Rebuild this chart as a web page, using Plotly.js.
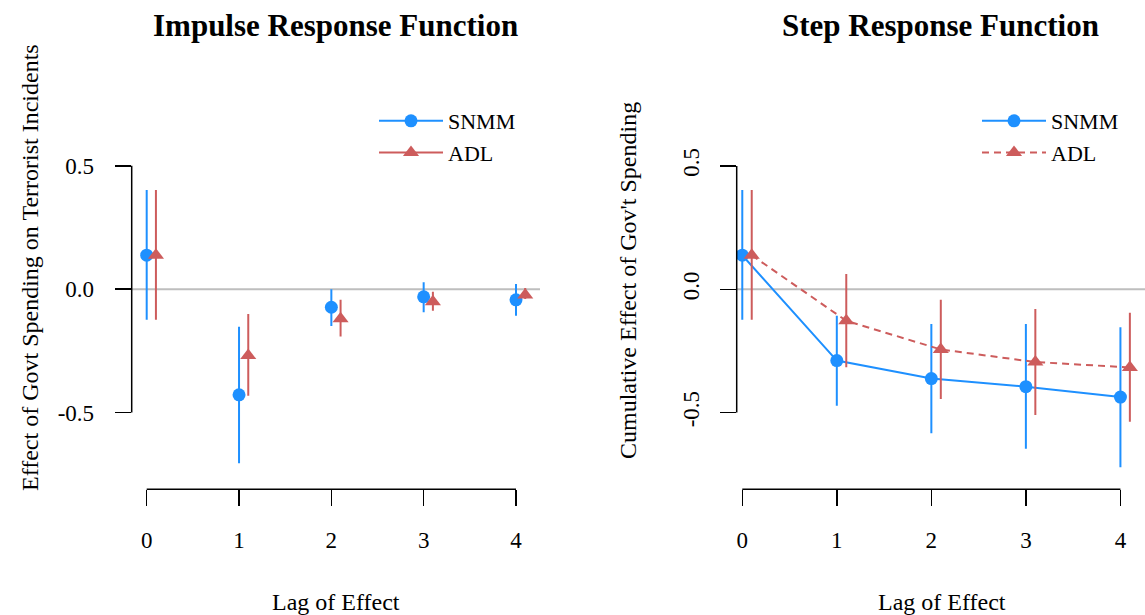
<!DOCTYPE html>
<html>
<head>
<meta charset="utf-8">
<script src="https://cdn.plot.ly/plotly-3.0.1.min.js"></script>
<style>html,body{margin:0;padding:0;background:#fff;}#chart{width:1145px;height:615px;}</style>
</head>
<body>
<div id="chart"></div>
<script>
// ---- data ----
const lags = [0, 1, 2, 3, 4];
const lagLabels = ['0', '1', '2', '3', '4'];
const yTicks = [-0.5, 0, 0.5];
const yTickLabels = ['-0.5', '0.0', '0.5'];
const seriesNames = ['SNMM', 'ADL'];

// Impulse response
const snmmIrf   = [0.138, -0.428, -0.073, -0.031, -0.043];
const snmmIrfLo = [-0.124, -0.705, -0.149, -0.093, -0.108];
const snmmIrfHi = [0.402, -0.152, 0.000, 0.028, 0.021];
const adlIrf    = [0.138, -0.269, -0.120, -0.051, -0.023];
const adlIrfLo  = [-0.124, -0.432, -0.192, -0.087, -0.040];
const adlIrfHi  = [0.402, -0.100, -0.043, -0.010, 0.005];

// Step response
const snmmSrf   = [0.138, -0.289, -0.362, -0.395, -0.437];
const snmmSrfLo = [-0.124, -0.472, -0.584, -0.647, -0.722];
const snmmSrfHi = [0.402, -0.107, -0.141, -0.141, -0.154];
const adlSrf    = [0.138, -0.128, -0.244, -0.295, -0.317];
const adlSrfLo  = [-0.124, -0.316, -0.445, -0.510, -0.537];
const adlSrfHi  = [0.402, 0.062, -0.043, -0.080, -0.095];

// ---- styling ----
const BLUE = '#1E90FF';
const RED = '#CD5C5C';
const FONT = 'Liberation Serif';
const dodge = 0.1;
const W = 1145, H = 615;

const plus = (est, hi) => est.map((v, i) => hi[i] - v);
const minus = (est, lo) => est.map((v, i) => v - lo[i]);
const shift = (arr, d) => arr.map(v => v + d);

function errBar(est, lo, hi, color) {
  return {type: 'data', array: plus(est, hi), arrayminus: minus(est, lo), visible: true,
          color: color, thickness: 2, width: 0};
}

const traces = [
  // Impulse panel
  {x: lags, y: snmmIrf, xaxis: 'x', yaxis: 'y', mode: 'markers', showlegend: false,
   marker: {color: BLUE, size: 13, symbol: 'circle'},
   error_y: errBar(snmmIrf, snmmIrfLo, snmmIrfHi, BLUE)},
  {x: shift(lags, dodge), y: adlIrf, xaxis: 'x', yaxis: 'y', mode: 'markers', showlegend: false,
   marker: {color: RED, size: 14, symbol: 'triangle-up'},
   error_y: errBar(adlIrf, adlIrfLo, adlIrfHi, RED)},
  // Step panel
  {x: lags, y: snmmSrf, xaxis: 'x2', yaxis: 'y2', mode: 'lines+markers', showlegend: false,
   line: {color: BLUE, width: 2},
   marker: {color: BLUE, size: 13, symbol: 'circle'},
   error_y: errBar(snmmSrf, snmmSrfLo, snmmSrfHi, BLUE)},
  {x: shift(lags, dodge), y: adlSrf, xaxis: 'x2', yaxis: 'y2', mode: 'lines+markers', showlegend: false,
   line: {color: RED, width: 2, dash: '7px,5px'},
   marker: {color: RED, size: 14, symbol: 'triangle-up'},
   error_y: errBar(adlSrf, adlSrfLo, adlSrfHi, RED)},
  // legend entries
  {x: [null], y: [null], xaxis: 'x', yaxis: 'y', mode: 'lines+markers', name: seriesNames[0], legend: 'legend',
   line: {color: BLUE, width: 2}, marker: {color: BLUE, size: 13, symbol: 'circle'}},
  {x: [null], y: [null], xaxis: 'x', yaxis: 'y', mode: 'lines+markers', name: seriesNames[1], legend: 'legend',
   line: {color: RED, width: 2}, marker: {color: RED, size: 14, symbol: 'triangle-up'}},
  {x: [null], y: [null], xaxis: 'x2', yaxis: 'y2', mode: 'lines+markers', name: seriesNames[0], legend: 'legend2',
   line: {color: BLUE, width: 2}, marker: {color: BLUE, size: 13, symbol: 'circle'}},
  {x: [null], y: [null], xaxis: 'x2', yaxis: 'y2', mode: 'lines+markers', name: seriesNames[1], legend: 'legend2',
   line: {color: RED, width: 2, dash: '7px,5px'}, marker: {color: RED, size: 14, symbol: 'triangle-up'}}
];

// pixel geometry -> paper
const px = v => v / W;
const py = v => 1 - v / H;

const tickFont = {family: FONT, size: 23, color: '#000'};
const xAxisCommon = {
  tickmode: 'array', tickvals: lags, ticktext: lagLabels,
  ticks: 'outside', ticklen: 16, tickwidth: 1.5, tickcolor: '#000',
  showline: false, showgrid: false, zeroline: false,
  tickfont: tickFont, ticklabelstandoff: 14,
  fixedrange: true
};
const yAxisCommon = {
  tickmode: 'array', tickvals: yTicks, ticktext: yTickLabels,
  ticks: 'outside', ticklen: 16, tickwidth: 1.5, tickcolor: '#000',
  showline: false, showgrid: false, zeroline: false,
  tickfont: tickFont,
  fixedrange: true
};

const legendCommon = {
  font: {family: FONT, size: 22, color: '#000'},
  bgcolor: 'rgba(0,0,0,0)', borderwidth: 0, itemwidth: 64,
  xanchor: 'left', yanchor: 'top', tracegroupgap: 0
};

const layout = {
  width: W, height: H,
  font: {family: FONT, size: 23, color: '#000'},
  margin: {l: 0, r: 0, t: 0, b: 0},
  paper_bgcolor: '#fff', plot_bgcolor: 'rgba(0,0,0,0)',
  showlegend: true,
  xaxis: Object.assign({}, xAxisCommon, {domain: [px(131.7), px(540)], range: [-0.1625, 4.26], anchor: 'y'}),
  yaxis: Object.assign({}, yAxisCommon, {domain: [py(489.3), py(46.7)], range: [-0.811, 0.983], anchor: 'x',
    ticklabelstandoff: 16}),
  xaxis2: Object.assign({}, xAxisCommon, {domain: [px(736.7), 1], range: [-0.059, 4.26], anchor: 'y2'}),
  yaxis2: Object.assign({}, yAxisCommon, {domain: [py(489.3), py(72.7)], range: [-0.811, 0.878], anchor: 'x2',
    tickangle: -90, ticklabelstandoff: 12}),
  legend: Object.assign({}, legendCommon, {x: px(374), y: py(100)}),
  legend2: Object.assign({}, legendCommon, {x: px(977), y: py(100)}),
  shapes: [
    {type: 'line', layer: 'below', xref: 'x domain', yref: 'y', x0: 0, x1: 1, y0: 0, y1: 0, line: {color: '#BEBEBE', width: 2}},
    {type: 'line', layer: 'below', xref: 'x2 domain', yref: 'y2', x0: 0, x1: 1, y0: 0, y1: 0, line: {color: '#BEBEBE', width: 2}},
    {type: 'line', xref: 'x domain', yref: 'y', x0: 0, x1: 0, y0: yTicks[0], y1: yTicks[yTicks.length - 1], line: {color: '#000', width: 1.5}},
    {type: 'line', xref: 'x2 domain', yref: 'y2', x0: 0, x1: 0, y0: yTicks[0], y1: yTicks[yTicks.length - 1], line: {color: '#000', width: 1.5}},
    {type: 'line', xref: 'x', yref: 'y domain', x0: lags[0], x1: lags[lags.length - 1], y0: 0, y1: 0, line: {color: '#000', width: 1.5}},
    {type: 'line', xref: 'x2', yref: 'y2 domain', x0: lags[0], x1: lags[lags.length - 1], y0: 0, y1: 0, line: {color: '#000', width: 1.5}}
  ],
  annotations: [
    {text: '<b>Impulse Response Function</b>', xref: 'paper', yref: 'paper', x: px(335.8), y: py(25), showarrow: false,
     xanchor: 'center', yanchor: 'middle', font: {family: FONT, size: 31, color: '#000'}},
    {text: '<b>Step Response Function</b>', xref: 'paper', yref: 'paper', x: px(940), y: py(25), showarrow: false,
     xanchor: 'center', yanchor: 'middle', font: {family: FONT, size: 31, color: '#000'}},
    {text: 'Lag of Effect', xref: 'paper', yref: 'paper', x: px(335.8), y: py(602), showarrow: false,
     xanchor: 'center', yanchor: 'middle', font: {family: FONT, size: 24, color: '#000'}},
    {text: 'Lag of Effect', xref: 'paper', yref: 'paper', x: px(941.7), y: py(602), showarrow: false,
     xanchor: 'center', yanchor: 'middle', font: {family: FONT, size: 24, color: '#000'}},
    {text: 'Effect of Govt Spending on Terrorist Incidents', xref: 'paper', yref: 'paper', x: px(30), y: py(268),
     showarrow: false, textangle: -90, xanchor: 'center', yanchor: 'middle', font: {family: FONT, size: 24, color: '#000'}},
    {text: "Cumulative Effect of Gov't Spending", xref: 'paper', yref: 'paper', x: px(628), y: py(281),
     showarrow: false, textangle: -90, xanchor: 'center', yanchor: 'middle', font: {family: FONT, size: 24, color: '#000'}}
  ]
};

Plotly.newPlot('chart', traces, layout, {staticPlot: true, displayModeBar: false});
</script>
</body>
</html>
